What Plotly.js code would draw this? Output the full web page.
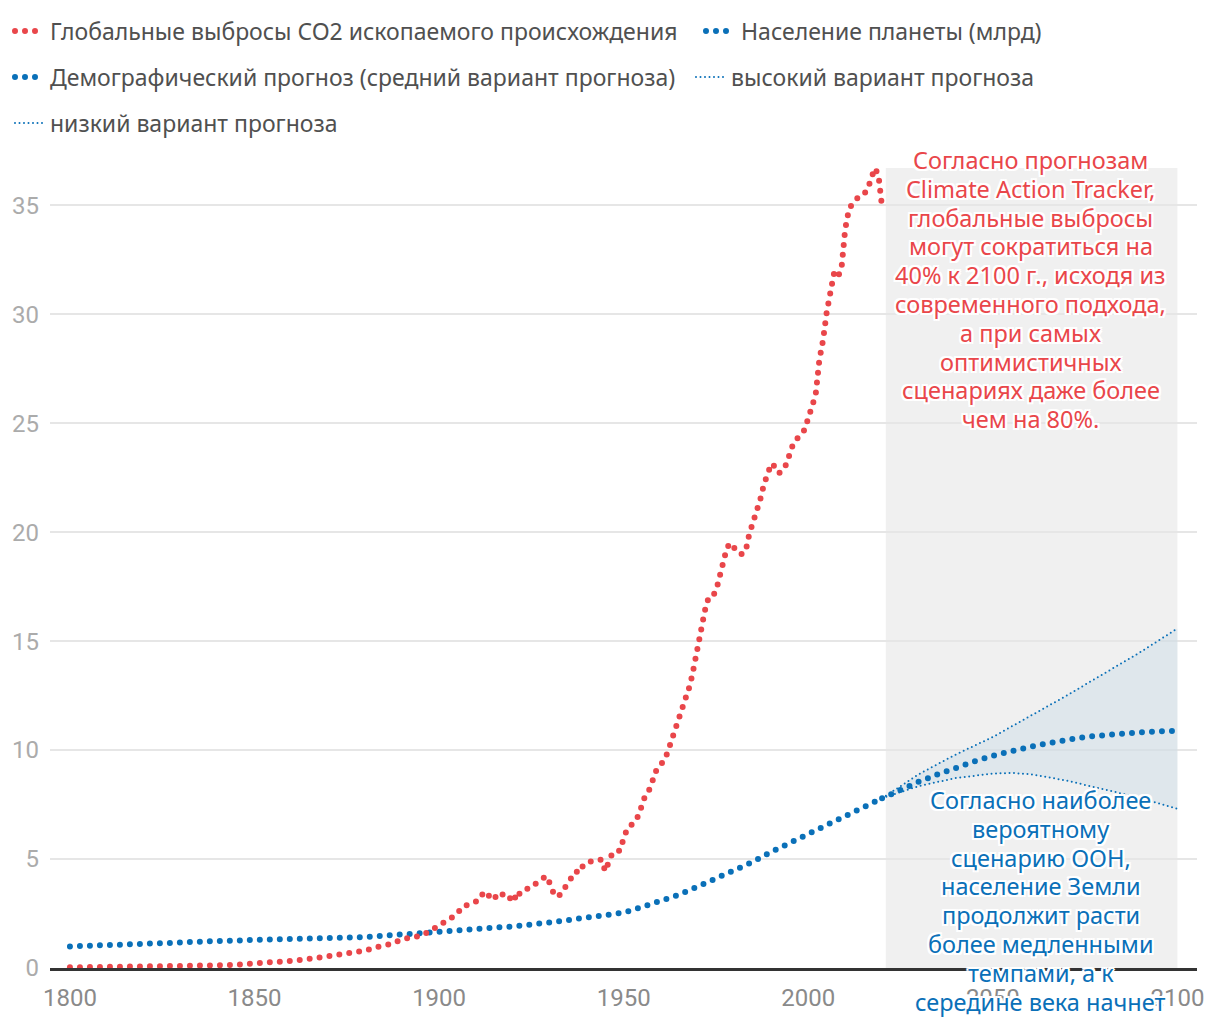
<!DOCTYPE html>
<html><head><meta charset="utf-8">
<script src="https://cdn.plot.ly/plotly-3.0.1.min.js"></script>
<style>html,body{margin:0;padding:0;background:#fff}</style>
</head><body>
<div id="chart" style="width:1220px;height:1020px"></div>
<script>
// ---- Data ----
const co2Years = [1800,1810,1820,1830,1840,1845,1850,1855,1860,1865,1870,1875,1880,1883,1885,1887,1889,
 1890,1891,1892,1893,1894,1895,1896,1897,1898,1899,1900,1901,1902,1903,1904,1905,1906,1907,1908,1909,
 1910,1911,1912,1913,1914,1915,1916,1917,1918,1919,1920,1921,1922,1923,1924,1925,1926,1927,1928,1929,
 1930,1931,1932,1933,1934,1935,1936,1937,1938,1939,1940,1941,1942,1943,1944,1945,1946,1947,1948,1949,
 1950,1951,1952,1953,1954,1955,1956,1957,1958,1959,1960,1961,1962,1963,1964,1965,1966,1967,1968,1969,
 1970,1971,1972,1973,1974,1975,1976,1977,1978,1979,1980,1981,1982,1983,1984,1985,1986,1987,1988,1989,
 1990,1991,1992,1993,1994,1995,1996,1997,1998,1999,2000,2001,2002,2003,2004,2005,2006,2007,2008,2009,
 2010,2011,2012,2013,2014,2015,2016,2017,2018,2019,2020];
const co2Values = [0.03,0.04,0.05,0.08,0.12,0.15,0.19,0.27,0.33,0.42,0.54,0.67,0.80,0.96,1.02,1.10,1.25,
 1.32,1.36,1.37,1.39,1.44,1.50,1.56,1.63,1.72,1.85,1.96,2.06,2.16,2.30,2.40,2.48,2.78,2.85,2.86,2.95,
 3.05,3.15,3.47,3.48,3.14,3.18,3.46,3.40,3.30,3.14,3.42,3.12,3.50,3.62,3.64,3.69,3.85,3.98,4.10,4.22,
 3.88,3.44,3.26,3.40,3.67,3.95,4.15,4.44,4.36,4.70,4.84,4.90,4.94,4.96,4.97,4.44,4.88,5.30,5.37,5.38,
 5.95,6.40,6.55,6.70,7.00,7.60,8.00,8.20,8.60,9.15,9.35,9.50,9.95,10.45,10.95,11.40,11.90,12.30,13.00,13.80,
 14.80,15.50,16.40,17.00,17.05,17.30,18.00,18.60,19.30,19.50,19.30,19.03,19.00,19.10,19.90,20.40,20.80,21.50,22.20,22.60,
 23.15,23.00,22.70,22.80,23.10,23.60,24.10,24.30,24.45,24.70,25.20,25.70,26.30,27.90,28.80,30.10,31.00,31.90,31.70,32.10,
 33.90,34.80,35.10,35.30,35.45,35.50,35.70,36.20,36.70,36.40,34.90];

const popYears = [1800,1810,1820,1830,1840,1850,1860,1870,1880,1890,1900,1910,1920,1930,1940,1950,
 1955,1960,1965,1970,1975,1980,1985,1990,1995,2000,2005,2010,2015,2020];
const popValues = [0.99,1.03,1.09,1.17,1.24,1.29,1.31,1.35,1.42,1.54,1.65,1.77,1.91,2.09,2.32,2.54,
 2.80,3.05,3.36,3.73,4.10,4.46,4.87,5.33,5.74,6.14,6.55,6.96,7.38,7.79];

const mediumYears = [2020,2025,2030,2035,2040,2045,2050,2055,2060,2065,2070,2075,2080,2085,2090,2095,2100];
const mediumValues = [7.79,8.18,8.55,8.88,9.20,9.48,9.74,9.96,10.15,10.32,10.48,10.60,10.68,10.77,10.82,10.86,10.88];

const highYears = [2020,2030,2040,2050,2060,2070,2080,2090,2100];
const highValues = [7.79,8.90,9.80,10.60,11.55,12.50,13.50,14.50,15.58];

const lowYears = [2020,2030,2040,2050,2055,2060,2070,2080,2090,2100];
const lowValues = [7.79,8.35,8.72,8.92,8.95,8.90,8.60,8.20,7.80,7.30];

const seriesNames = [
  'Глобальные выбросы CO2 ископаемого происхождения',
  'Население планеты (млрд)',
  'Демографический прогноз (средний вариант прогноза)',
  'высокий вариант прогноза',
  'низкий вариант прогноза'
];
const xTicks = [1800,1850,1900,1950,2000,2050,2100];
const yTicks = [0,5,10,15,20,25,30,35];
const forecastSpan = [2021,2100];

const noteCO2Lines = ['Согласно прогнозам','Climate Action Tracker,','глобальные выбросы','могут сократиться на',
  '40% к 2100 г., исходя из','современного подхода,','а при самых','оптимистичных','сценариях даже более','чем на 80%.'];
const notePopLines = ['Согласно наиболее','вероятному','сценарию ООН,','население Земли','продолжит расти',
  'более медленными','темпами, а к','середине века начнет'];

// ---- Styles ----
const RED = '#e9464a';
const BLUE = '#0a70b8';
const bigDot = {width:6, dash:'0px,10px'};
const smallDot = {width:2, dash:'0px,4.5px'};

const bandX = highYears.concat(lowYears.slice().reverse());
const bandY = highValues.concat(lowValues.slice().reverse());

const traces = [
  {x:bandX, y:bandY, type:'scatter', mode:'lines', fill:'toself', fillcolor:'rgba(180,208,226,0.28)',
   line:{width:0}, showlegend:false, hoverinfo:'skip'},
  {x:highYears, y:highValues, type:'scatter', mode:'lines', name:seriesNames[3], legend:'legend2', legendrank:2,
   line:Object.assign({color:BLUE}, smallDot)},
  {x:lowYears, y:lowValues, type:'scatter', mode:'lines', name:seriesNames[4], legend:'legend3', legendrank:1,
   line:Object.assign({color:BLUE}, smallDot)},
  {x:mediumYears, y:mediumValues, type:'scatter', mode:'lines', name:seriesNames[2], legend:'legend2', legendrank:1,
   legendwidth:636, line:Object.assign({color:BLUE}, bigDot)},
  {x:popYears, y:popValues, type:'scatter', mode:'lines', name:seriesNames[1], legend:'legend', legendrank:2,
   line:Object.assign({color:BLUE}, bigDot)},
  {x:co2Years, y:co2Values, type:'scatter', mode:'lines', name:seriesNames[0], legend:'legend', legendrank:1,
   legendwidth:646, line:Object.assign({color:RED}, bigDot)}
];

const legendBase = {orientation:'h', xref:'container', yref:'container', x:10/1220, xanchor:'left', yanchor:'middle',
  font:{family:'Noto Sans', size:23, color:'#505050'}, bgcolor:'rgba(0,0,0,0)', traceorder:'normal'};

const halo = '-2px -2px 0 #fff, 2px -2px 0 #fff, -2px 2px 0 #fff, 2px 2px 0 #fff, 0 -2px 0 #fff, 0 2px 0 #fff, -2px 0 0 #fff, 2px 0 0 #fff';

// plot area spans pixels 168..968 vertically
const toPaperY = py => (968 - py) / 800;
const annotations = [];
noteCO2Lines.forEach((t, i) => annotations.push({
  x:2060.3, xref:'x', yref:'paper', y:toPaperY(160 + i*28.8), text:t, showarrow:false,
  xanchor:'center', yanchor:'middle', font:{family:'Noto Sans', size:23.5, color:RED, shadow:halo}
}));
notePopLines.forEach((t, i) => annotations.push({
  x:2063, xref:'x', yref:'paper', y:toPaperY(800 + i*28.8), text:t, showarrow:false,
  xanchor:'center', yanchor:'middle', font:{family:'Noto Sans', size:23.5, color:BLUE, shadow:halo}
}));

const layout = {
  width:1220, height:1020,
  paper_bgcolor:'#fff', plot_bgcolor:'#fff',
  margin:{l:50, r:23, t:168, b:52},
  font:{family:'Noto Sans'},
  xaxis:{range:[1794.6,2105.3], tickvals:xTicks, ticktext:xTicks.map(String), showgrid:false, zeroline:false,
    showline:true, linecolor:'#333', linewidth:3, ticks:'', ticklabelstandoff:6,
    tickfont:{family:'Roboto', size:24, color:'#8a8a8a'}},
  yaxis:{range:[0,36.71], tickvals:yTicks, ticktext:yTicks.map(String), showgrid:true, gridcolor:'#e6e6e6', gridwidth:2,
    zeroline:false, showline:false, ticks:'', ticklabelstandoff:10,
    tickfont:{family:'Roboto', size:24, color:'#ababab'}},
  showlegend:true,
  legend:Object.assign({}, legendBase, {y:1-31/1020}),
  legend2:Object.assign({}, legendBase, {y:1-77/1020}),
  legend3:Object.assign({}, legendBase, {y:1-123/1020}),
  shapes:[{type:'rect', layer:'below', xref:'x', yref:'paper', x0:forecastSpan[0], x1:forecastSpan[1], y0:0, y1:1,
    fillcolor:'#f0f0f0', line:{width:0}}],
  annotations:annotations
};

Plotly.newPlot('chart', traces, layout, {displayModeBar:false, staticPlot:true}).then(gd => {
  gd.querySelectorAll('.scatterlayer .js-line').forEach(p => { p.style.strokeLinecap = 'round'; });
  gd.querySelectorAll('.legendlines path').forEach(p => {
    p.style.strokeLinecap = 'round';
    if (parseFloat(p.style.strokeWidth) >= 5) p.style.strokeDasharray = '0px,10px,0px,10px,0px,40px';
  });
});
</script>
</body></html>
